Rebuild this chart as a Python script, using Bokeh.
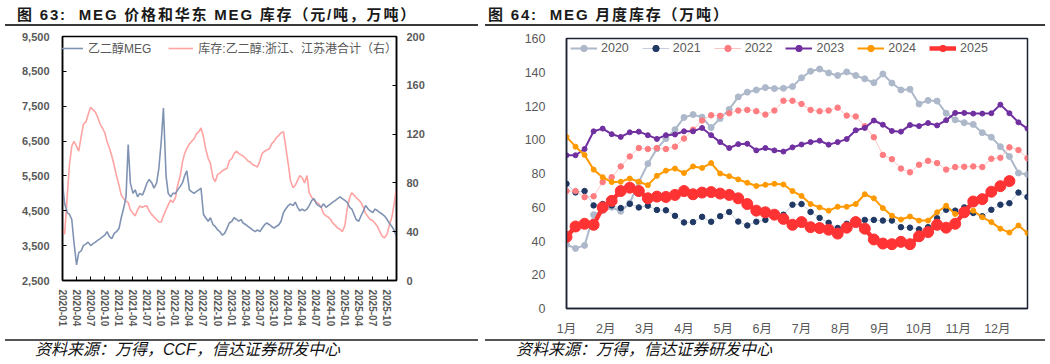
import pandas as pd
from bokeh.plotting import figure
from bokeh.models import (Range1d, LinearAxis, FixedTicker, NumeralTickFormatter,
                          DatetimeTickFormatter, Legend, LegendItem, Div, CustomJSTickFormatter)
from bokeh.layouts import column, row
from bokeh.embed import file_html
from bokeh.resources import INLINE

# ---------------- left panel: semi-monthly readings ----------------
dates = pd.date_range("2020-01-01", "2025-12-01", freq="SMS")

price_2020 = [5300, 4700, 4450, 4400, 4250, 3600, 2950, 3300, 3350, 3500, 3550, 3600,
              3500, 3550, 3600, 3650, 3700, 3750, 3800, 3900, 3750, 3700, 3850, 3900]
price_2021 = [4000, 4300, 4600, 4900, 6400, 5300, 5000, 5100, 4900, 5000, 4950, 5100,
              5300, 5400, 5300, 5150, 5300, 5700, 6500, 7450, 5500, 5000, 4900, 5000]
price_2022 = [5000, 5100, 5200, 5300, 5500, 5650, 5100, 5050, 5000, 5050, 5100, 5150,
              4400, 4300, 4200, 4300, 4100, 4050, 3950, 3900, 3800, 3850, 4000, 4150]
price_2023 = [4200, 4300, 4250, 4200, 4250, 4150, 4100, 4050, 4000, 3950, 3900, 3950,
              3900, 4000, 4100, 4150, 4100, 4050, 4000, 4050, 4100, 4200, 4450, 4550]
price_2024 = [4650, 4700, 4650, 4750, 4600, 4500, 4550, 4500, 4550, 4650, 4800, 4850,
              4700, 4650, 4600, 4700, 4600, 4650, 4700, 4750, 4800, 4850, 4900, 4850]
price_2025 = [4800, 4750, 4600, 4550, 4400, 4250, 4200, 4350, 4500, 4650, 4550, 4500,
              4450, 4550, 4500, 4450, 4400, 4350, 4250, 4150, 4050, 3950, 3750]
meg_price = price_2020 + price_2021 + price_2022 + price_2023 + price_2024 + price_2025

stock_2020 = [42, 38, 70, 95, 110, 114, 110, 106, 118, 128, 130, 136,
              142, 140, 138, 134, 128, 125, 121, 114, 108, 102, 94, 86]
stock_2021 = [78, 70, 67, 65, 64, 58, 55, 53, 58, 61, 60, 61,
              61, 57, 54, 52, 50, 48, 48, 53, 58, 62, 66, 64]
stock_2022 = [68, 78, 86, 97, 104, 108, 112, 114, 116, 120, 122, 125,
              118, 108, 100, 96, 84, 81, 87, 88, 90, 91, 92, 98]
stock_2023 = [100, 104, 106, 104, 103, 102, 100, 98, 97, 95, 94, 93,
              98, 104, 106, 107, 108, 112, 114, 117, 119, 121, 122, 110]
stock_2024 = [95, 82, 76, 78, 82, 86, 84, 80, 86, 72, 68, 66,
              64, 63, 60, 55, 53, 52, 50, 47, 45, 43, 42, 40]
stock_2025 = [45, 58, 68, 72, 70, 68, 66, 64, 60, 55, 52, 50,
              49, 47, 44, 40, 36, 35, 38, 45, 52, 62, 76]
meg_stock = stock_2020 + stock_2021 + stock_2022 + stock_2023 + stock_2024 + stock_2025

left_labels = ["乙二醇MEG", "库存:乙二醇:浙江、江苏港合计（右）"]

# ---------------- right panel: weekly readings ----------------
month_labels = ["1月", "2月", "3月", "4月", "5月", "6月", "7月", "8月", "9月", "10月", "11月", "12月"]
years = ["2020", "2021", "2022", "2023", "2024", "2025"]
y2020 = [37.9, 35.6, 37.4, 55.6, 58.0, 60.0, 57.6, 62.5, 74.9, 85.8, 94.7, 100.7, 106.0,
         113.2, 114.9, 113.4, 107.2, 112.6, 118.0, 125.4, 128.2, 129.5, 130.9, 130.3,
         130.5, 131.5, 136.7, 140.6, 141.9, 139.6, 138.1, 140.2, 138.1, 136.1, 133.8, 139.0,
         133.6, 129.5, 129.9, 121.2, 123.3, 122.9, 115.7, 111.8, 110.1, 109.1, 104.2, 101.5,
         95.9, 90.1, 80.3, 79.4]
y2021 = [73.9, 68.8, 69.6, 61.1, 61.9, 61.1, 59.5, 62.0, 59.9, 60.9, 58.4, 58.2, 54.9,
         51.0, 51.2, 54.3, 51.4, 54.7, 57.2, 51.5, 49.2, 51.4, 52.5, 55.6,
         55.6, 61.5, 61.9, 57.2, 53.7, 50.8, 47.7, 50.2, 52.5, 52.5, 52.5, 52.1,
         52.1, 48.2, 47.9, 46.9, 48.2, 53.5, 58.5, 58.0, 59.9, 56.6, 54.7, 58.5,
         61.5, 62.4, 68.7, 66.1]
y2022 = [69.6, 69.6, 66.0, 66.5, 74.9, 77.8, 84.2, 90.1, 95.1, 94.5, 95.1, 94.5, 95.9,
         100.7, 106.0, 111.4, 114.5, 114.2, 115.7, 117.3, 117.7, 116.9, 114.9, 117.3,
         123.1, 123.1, 121.2, 117.7, 116.9, 117.3, 119.0, 114.3, 113.8, 108.0, 101.5, 91.0,
         88.5, 82.9, 80.7, 85.2, 87.5, 86.2, 82.3, 83.8, 84.0, 84.2, 83.8, 88.7,
         89.3, 95.5, 93.9, 89.1]
y2023 = [90.8, 90.8, 94.5, 105.0, 106.6, 103.3, 101.7, 104.4, 104.8, 102.7, 100.5, 102.7,
         103.1, 105.0, 105.0, 107.0, 102.7, 98.6, 95.1, 97.4, 97.6, 93.7, 95.1, 93.7,
         93.0, 95.5, 97.2, 98.6, 99.4, 97.1, 98.6, 100.4, 105.6, 107.0, 111.4, 108.9,
         105.2, 104.8, 108.7, 108.1, 109.9, 108.5, 111.6, 115.9, 115.9, 115.5, 115.5, 115.7,
         120.8, 115.7, 110.3, 106.6]
y2024 = [101.7, 95.9, 91.0, 82.3, 77.8, 74.9, 75.1, 77.0, 75.1, 73.1, 78.6, 81.7,
         82.9, 80.3, 84.2, 83.3, 86.2, 80.0, 78.4, 76.5, 74.5, 72.6, 73.3, 73.9,
         73.5, 69.6, 66.7, 61.9, 59.9, 58.0, 60.3, 60.3, 61.9, 67.7, 65.3, 59.5,
         55.0, 52.7, 54.5, 52.1, 52.1, 57.0, 60.9, 56.0, 57.0, 58.0, 54.1, 51.2,
         47.3, 45.0, 49.2, 44.7]
y2025 = [42.4, 48.6, 50.2, 49.6, 59.9, 63.8, 69.6, 71.6, 69.6, 65.3, 66.3, 66.1,
         67.3, 69.6, 67.7, 68.7, 69.0, 68.1, 67.3, 65.3, 61.9, 58.0, 57.0, 55.6,
         53.1, 49.6, 51.2, 48.2, 47.7, 46.7, 44.4, 47.9, 51.2, 47.3, 40.9, 38.5,
         38.1, 39.5, 38.1, 42.8, 45.3, 49.6, 47.9, 50.2, 57.0, 63.4, 64.8, 69.2,
         72.5, 75.5]
series = [y2020, y2021, y2022, y2023, y2024, y2025]

GREY = "#595959"
LATIN_CJK = "Liberation Sans, Noto Sans CJK SC"

# ================= left figure =================
x0 = dates[0].value / 1e6
x1 = dates[-1].value / 1e6
p1 = figure(width=500, height=312, x_axis_type="datetime", output_backend="svg",
            toolbar_location=None, min_border_left=62, min_border_right=104,
            min_border_top=10, min_border_bottom=58,
            x_range=Range1d(x0, x1), y_range=Range1d(2500, 9500))
p1.frame_align = False
p1.extra_y_ranges = {"inv": Range1d(0, 200)}
p1.xgrid.visible = False
p1.ygrid.visible = False
p1.outline_line_color = "black"
p1.outline_line_width = 1.5
p1.outline_line_alpha = 1

r_stock = p1.line(dates, meg_stock, y_range_name="inv", line_color="#FFA3A3", line_width=1.6)
r_price = p1.line(dates, meg_price, line_color="#8093B3", line_width=1.6)

tick_dates = pd.date_range("2020-01-01", "2025-10-01", freq="3MS")
xax = p1.xaxis[0]
xax.ticker = FixedTicker(ticks=[t.value // 10**6 for t in tick_dates])
xax.formatter = DatetimeTickFormatter(days="%Y-%m", months="%Y-%m", years="%Y-%m")
xax.major_label_orientation = "vertical"
yax = p1.yaxis[0]
yax.ticker = FixedTicker(ticks=list(range(2500, 9501, 1000)))
yax.formatter = NumeralTickFormatter(format="0,0")
rax = LinearAxis(y_range_name="inv", ticker=FixedTicker(ticks=list(range(0, 201, 40))))
p1.add_layout(rax, "right")
for ax in (xax, yax, rax):
    ax.axis_line_color = "black"
    ax.axis_line_width = 1.5
    ax.major_tick_in = 4
    ax.major_tick_out = 0
    ax.major_tick_line_color = "black"
    ax.major_tick_line_width = 1
    ax.minor_tick_line_color = None
    ax.major_label_text_font = "Liberation Sans"
    ax.major_label_text_font_style = "bold"
    ax.major_label_text_color = GREY
    ax.major_label_text_font_size = "11px"
xax.major_label_text_font_size = "10px"
xax.major_label_standoff = 9
yax.major_label_standoff = 13
rax.major_label_standoff = 10

leg1 = Legend(items=[LegendItem(label=left_labels[0], renderers=[r_price]),
                     LegendItem(label=left_labels[1], renderers=[r_stock])],
              orientation="horizontal", location=(-4, 224), padding=0, margin=0,
              spacing=17, glyph_width=25, glyph_height=16, label_height=16,
              label_standoff=5, background_fill_alpha=0, border_line_color=None,
              label_text_font=LATIN_CJK, label_text_font_size="12px",
              label_text_color=GREY)
p1.add_layout(leg1)

# ================= right figure =================
p2 = figure(width=550, height=312, output_backend="svg", toolbar_location=None,
            min_border_left=66, min_border_right=23, min_border_top=12, min_border_bottom=25,
            x_range=Range1d(0, 51), y_range=Range1d(0, 160))
p2.frame_align = False
p2.xgrid.visible = False
p2.ygrid.visible = False
p2.outline_line_color = "#1c2333"
p2.outline_line_width = 1.5
p2.outline_line_alpha = 1

styles = [
    dict(lc="#ADB9CA", lw=2, mc="#ADB9CA", ms=6),
    dict(lc="#C5CFDD", lw=1, mc="#203864", ms=5.5),
    dict(lc="#FFC4C4", lw=1, mc="#FF7C80", ms=5.5),
    dict(lc="#7030A0", lw=2, mc="#7030A0", ms=5),
    dict(lc="#FF9900", lw=2, mc="#FF9900", ms=5),
    dict(lc="#FF3333", lw=4.5, mc="#FF3333", ms=11),
]
items = []
for yr, vals, st in zip(years, series, styles):
    xs = list(range(len(vals)))
    rl = p2.line(xs, vals, line_color=st["lc"], line_width=st["lw"])
    rs = p2.scatter(xs, vals, marker="circle", size=st["ms"], fill_color=st["mc"],
                    line_color=st["mc"])
    items.append(LegendItem(label=yr, renderers=[rl, rs]))

xb = p2.xaxis[0]
xb.ticker = FixedTicker(ticks=[m * 52 / 12 for m in range(12)])
xb.formatter = CustomJSTickFormatter(args=dict(labels=month_labels, wpm=52 / 12),
                                     code="return labels[Math.round(tick / wpm)]")
yb = p2.yaxis[0]
yb.ticker = FixedTicker(ticks=list(range(0, 161, 20)))
for ax in (xb, yb):
    ax.axis_line_color = "#1c2333"
    ax.axis_line_width = 1.5
    ax.major_tick_line_color = None
    ax.minor_tick_line_color = None
    ax.major_label_text_font = LATIN_CJK
    ax.major_label_text_color = GREY
    ax.major_label_text_font_size = "12.5px"
xb.major_label_standoff = 7
yb.major_label_standoff = 15

leg2 = Legend(items=items, orientation="horizontal", location=(4, 252), padding=0, margin=0,
              spacing=13, glyph_width=27, glyph_height=16, label_height=16, label_standoff=4,
              background_fill_alpha=0, border_line_color=None,
              label_text_font="Liberation Sans", label_text_font_size="12.5px",
              label_text_color=GREY)
p2.add_layout(leg2)

# ================= titles and sources =================
tstyle = ("position:absolute;top:6px;font-size:15px;font-weight:bold;line-height:17px;"
          "letter-spacing:1.8px;color:#1a1a1a;white-space:nowrap;"
          "font-family:'Liberation Sans','Noto Sans CJK SC',sans-serif;")
top_html = (
    '<div style="position:relative;width:1050px;height:26px;">'
    f'<div style="{tstyle}left:17px;">图 63:&nbsp; MEG 价格和华东 MEG 库存（元/吨，万吨）</div>'
    f'<div style="{tstyle}left:488px;">图 64:&nbsp; MEG 月度库存（万吨）</div>'
    '<div style="position:absolute;left:5px;width:473px;top:24px;height:2px;background:#3a3a3a;"></div>'
    '<div style="position:absolute;left:485px;width:560px;top:24px;height:2px;background:#3a3a3a;"></div>'
    '</div>')
sstyle = ("position:absolute;top:3px;font-size:16px;line-height:18px;font-style:italic;"
          "color:#111;white-space:nowrap;"
          "font-family:'Liberation Sans','Noto Sans CJK SC',sans-serif;")
bot_html = (
    '<div style="position:relative;width:1050px;height:26px;">'
    '<div style="position:absolute;left:5px;width:473px;top:1px;height:2px;background:#555;"></div>'
    '<div style="position:absolute;left:485px;width:560px;top:1px;height:2px;background:#555;"></div>'
    f'<div style="{sstyle}left:35px;">资料来源：万得，CCF，信达证券研发中心</div>'
    f'<div style="{sstyle}left:516px;">资料来源：万得，信达证券研发中心</div>'
    '</div>')
top_div = Div(text=top_html, width=1050, height=26, margin=0)
bot_div = Div(text=bot_html, width=1050, height=26, margin=0)

layout = column(top_div, row(p1, p2), bot_div)
open("out.html", "w").write(file_html(layout, INLINE, title="MEG"))
